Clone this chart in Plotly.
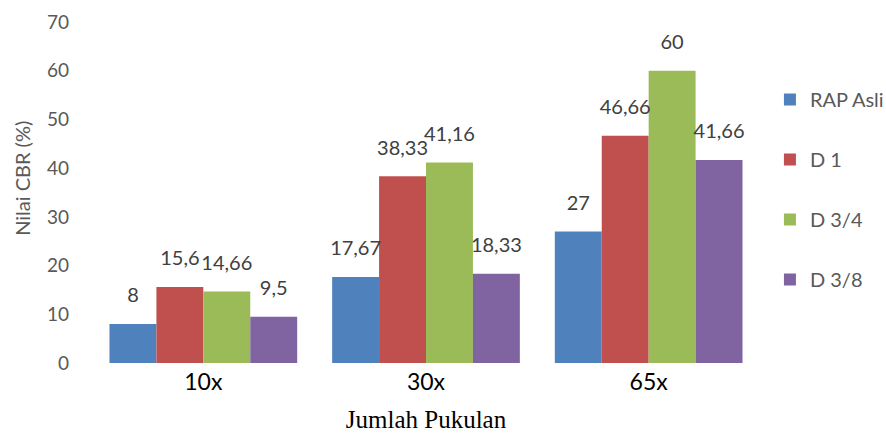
import plotly.graph_objects as go

# Jumlah pukulan (number of blows) per test
categories = ["10x", "30x", "65x"]

# CBR values (%) per aggregate type
rap_asli = [8, 17.67, 27]
d_1 = [15.6, 38.33, 46.66]
d_3_4 = [14.66, 41.16, 60]
d_3_8 = [9.5, 18.33, 41.66]

series_names = ["RAP Asli", "D 1", "D 3/4", "D 3/8"]
series_values = [rap_asli, d_1, d_3_4, d_3_8]
series_colors = ["#4F81BD", "#C0504D", "#9BBB59", "#8064A2"]

y_ticks = [0, 10, 20, 30, 40, 50, 60, 70]

FONT = "Lato, 'Open Sans', sans-serif"
GAP = 0.157


def fmt(v):
    # decimal comma, as written in Indonesian
    return f"{v:g}".replace(".", ",")


fig = go.Figure()
for name, vals, color in zip(series_names, series_values, series_colors):
    fig.add_trace(go.Bar(
        name=name,
        x=categories,
        y=vals,
        offsetgroup=name,
        marker=dict(color=color, line=dict(width=0)),
        legendgroup=name,
        hoverinfo="x+y+name",
    ))

# value labels: invisible markers at the bar tops push the text up a little
for name, vals in zip(series_names, series_values):
    fig.add_trace(go.Scatter(
        x=categories,
        y=vals,
        offsetgroup=name,
        mode="markers+text",
        marker=dict(size=25, color="rgba(0,0,0,0)"),
        text=[fmt(v) for v in vals],
        textposition="top center",
        textfont=dict(family=FONT, size=20, color="#404040"),
        cliponaxis=False,
        showlegend=False,
        hoverinfo="skip",
    ))

fig.update_layout(
    width=886,
    height=433,
    paper_bgcolor="white",
    plot_bgcolor="white",
    barmode="group",
    bargap=GAP,
    bargroupgap=0,
    scattermode="group",
    scattergap=GAP,
    margin=dict(l=92, r=126, t=22, b=70, autoexpand=False),
    showlegend=True,
    legend=dict(
        xref="container", yref="container",
        x=0.869, y=0.815, xanchor="left", yanchor="top",
        font=dict(family=FONT, size=20, color="#595959"),
        tracegroupgap=31,
        itemwidth=30,
        bgcolor="rgba(0,0,0,0)",
    ),
    xaxis=dict(
        showline=False,
        showgrid=False,
        ticks="",
        ticklabelstandoff=3,
        tickfont=dict(family=FONT, size=23, color="#000000"),
        title=dict(
            text="Jumlah Pukulan",
            font=dict(family="'Liberation Serif', 'DejaVu Serif', serif", size=25, color="#000000"),
            standoff=16,
        ),
    ),
    yaxis=dict(
        range=[0, 70],
        tickvals=y_ticks,
        showline=False,
        showgrid=False,
        zeroline=False,
        ticks="",
        ticklabelstandoff=22,
        tickfont=dict(family=FONT, size=19, color="#595959"),
    ),
    annotations=[dict(
        text="Nilai CBR (%)",
        xref="paper", yref="paper",
        x=0, y=0.54,
        xshift=-70,
        xanchor="center", yanchor="middle",
        textangle=-90,
        showarrow=False,
        font=dict(family=FONT, size=20, color="#595959"),
    )],
)

fig.write_html("out.html")
